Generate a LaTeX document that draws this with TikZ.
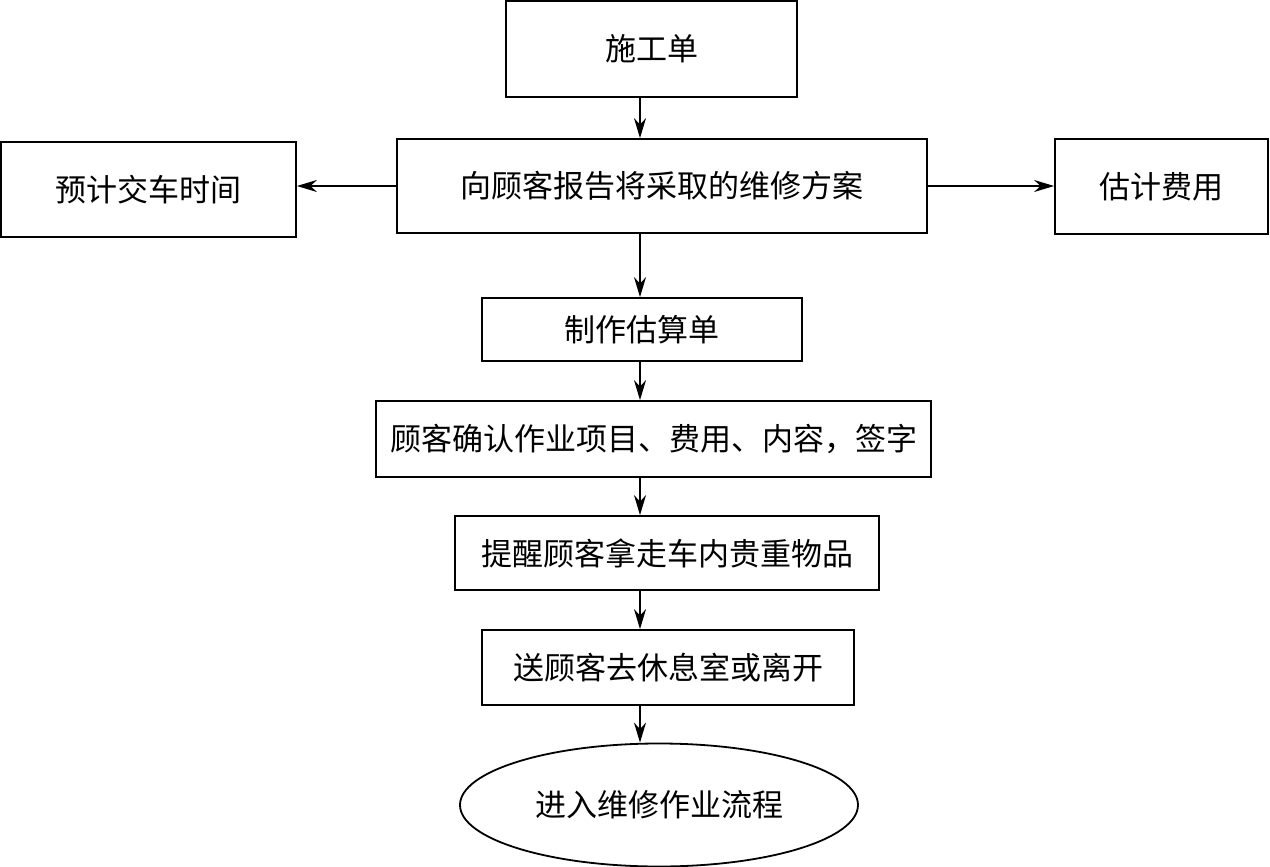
\documentclass[tikz,border=0pt]{standalone}
\usepackage{fontspec}
\newfontfamily\cjk{Noto Sans CJK SC}
\usetikzlibrary{arrows.meta,shapes.geometric}

\tikzset{
  box/.style={draw, line width=1.8pt, inner sep=0pt, font=\cjk\fontsize{31}{36}\selectfont},
  endnode/.style={box, ellipse},
  arr/.style={line width=1.8pt, -{Stealth[length=20pt,width=12pt]}}
}

\begin{document}
\begin{tikzpicture}[x=1pt,y=-1pt]
		\useasboundingbox (0,0) rectangle (1270,867);
		
		% Axis of the main flow
		\coordinate (axis) at (640,0);
		
		% Boxes
		\node [box, minimum width=291, minimum height=96] (shigong) at (651.5,49) {施工单};
		\node [box, minimum width=530, minimum height=94] (baogao) at (662,186) {向顾客报告将采取的维修方案};
		\node [box, minimum width=295, minimum height=95] (jiaoche) at (148.5,189.5) {预计交车时间};
		\node [box, minimum width=213, minimum height=95] (feiyong) at (1161.5,186.5) {估计费用};
		\node [box, minimum width=320, minimum height=63] (gusuan) at (642,329.5) {制作估算单};
		\node [box, minimum width=555, minimum height=76] (queren) at (653.5,439) {顾客确认作业项目、费用、内容，签字};
		\node [box, minimum width=424, minimum height=74] (tixing) at (667,553) {提醒顾客拿走车内贵重物品};
		\node [box, minimum width=372, minimum height=75] (xiuxi) at (668,667.5) {送顾客去休息室或离开};
		% Ellipse
		\node [endnode, minimum width=398, minimum height=123] (liucheng) at (659,805) {进入维修作业流程};
		
		% Arrows
		\draw [arr] (shigong.south -| axis) -- (baogao.north -| axis);
		\draw [arr] (baogao.west) -- (jiaoche.east |- baogao.west);
		\draw [arr] (baogao.east) -- (feiyong.west |- baogao.east);
		\draw [arr] (baogao.south -| axis) -- (gusuan.north -| axis);
		\draw [arr] (gusuan.south -| axis) -- (queren.north -| axis);
		\draw [arr] (queren.south -| axis) -- (tixing.north -| axis);
		\draw [arr] (tixing.south -| axis) -- (xiuxi.north -| axis);
		\draw [arr] (xiuxi.south -| axis) -- (liucheng.north -| axis);
		
\end{tikzpicture}
\end{document}
